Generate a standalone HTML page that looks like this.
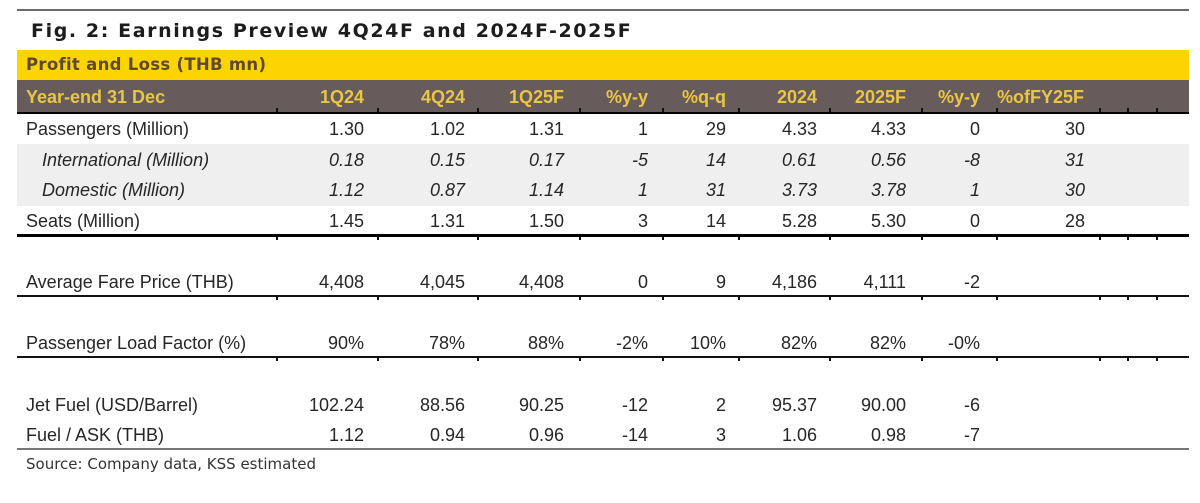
<!DOCTYPE html>
<html>
<head>
<meta charset="utf-8">
<style>
  html,body{margin:0;padding:0;background:#fff;}
  body{width:1200px;height:503px;position:relative;overflow:hidden;font-family:"Liberation Sans",Arial,sans-serif;}
  .abs{position:absolute;}
  .hl{position:absolute;left:17px;width:1172px;}
  .title{position:absolute;left:31px;top:18px;font-family:"DejaVu Sans",sans-serif;font-weight:bold;font-size:19px;letter-spacing:1.6px;color:#1c1c1c;white-space:nowrap;line-height:26px;}
  .pl{position:absolute;left:26px;top:52px;font-family:"DejaVu Sans",sans-serif;font-weight:bold;font-size:16.5px;letter-spacing:0.3px;color:#5e4a2a;white-space:nowrap;line-height:26px;}
  .row{position:absolute;left:0;width:1200px;height:24px;line-height:24px;font-size:18px;color:#262626;white-space:nowrap;}
  .row span{position:absolute;top:0;}
  .row .lab{left:26px;}
  .row .ind{left:42px;}
  .it{font-style:italic;}
  .hdr{color:#e9c646;font-weight:bold;font-size:18px;}
  .tk{position:absolute;width:2px;height:4px;background:#111;}
  .src{position:absolute;left:26px;top:453px;font-family:"DejaVu Sans",sans-serif;font-size:15px;color:#333;white-space:nowrap;line-height:22px;}
</style>
</head>
<body>
<!-- top rule -->
<div class="hl" style="top:9px;height:2px;background:#6a6a6a;"></div>
<div class="title">Fig. 2: Earnings Preview 4Q24F and 2024F-2025F</div>

<!-- yellow band -->
<div class="hl" style="top:50px;height:30px;background:#fdd300;"></div>
<div class="pl">Profit and Loss (THB mn)</div>

<!-- dark header band -->
<div class="hl" style="top:80px;height:33px;background:#675b5c;"></div>
<div class="row hdr" style="top:85px;">
  <span class="lab">Year-end 31 Dec</span>
  <span style="right:836px;">1Q24</span>
  <span style="right:735px;">4Q24</span>
  <span style="right:636px;">1Q25F</span>
  <span style="right:552px;">%y-y</span>
  <span style="right:474px;">%q-q</span>
  <span style="right:383px;">2024</span>
  <span style="right:294px;">2025F</span>
  <span style="right:220px;">%y-y</span>
  <span style="right:116px;">%ofFY25F</span>
</div>
<div class="hl" style="top:112px;height:2px;background:#000;"></div>

<!-- gray rows -->
<div class="hl" style="top:144px;height:62px;background:#efefef;"></div>

<div class="row" style="top:117px;">
  <span class="lab">Passengers (Million)</span>
  <span style="right:836px;">1.30</span>
  <span style="right:735px;">1.02</span>
  <span style="right:636px;">1.31</span>
  <span style="right:552px;">1</span>
  <span style="right:474px;">29</span>
  <span style="right:383px;">4.33</span>
  <span style="right:294px;">4.33</span>
  <span style="right:220px;">0</span>
  <span style="right:115px;">30</span>
</div>
<div class="row it" style="top:148px;">
  <span class="ind">International (Million)</span>
  <span style="right:836px;">0.18</span>
  <span style="right:735px;">0.15</span>
  <span style="right:636px;">0.17</span>
  <span style="right:552px;">-5</span>
  <span style="right:474px;">14</span>
  <span style="right:383px;">0.61</span>
  <span style="right:294px;">0.56</span>
  <span style="right:220px;">-8</span>
  <span style="right:115px;">31</span>
</div>
<div class="row it" style="top:178px;">
  <span class="ind">Domestic (Million)</span>
  <span style="right:836px;">1.12</span>
  <span style="right:735px;">0.87</span>
  <span style="right:636px;">1.14</span>
  <span style="right:552px;">1</span>
  <span style="right:474px;">31</span>
  <span style="right:383px;">3.73</span>
  <span style="right:294px;">3.78</span>
  <span style="right:220px;">1</span>
  <span style="right:115px;">30</span>
</div>
<div class="row" style="top:209px;">
  <span class="lab">Seats (Million)</span>
  <span style="right:836px;">1.45</span>
  <span style="right:735px;">1.31</span>
  <span style="right:636px;">1.50</span>
  <span style="right:552px;">3</span>
  <span style="right:474px;">14</span>
  <span style="right:383px;">5.28</span>
  <span style="right:294px;">5.30</span>
  <span style="right:220px;">0</span>
  <span style="right:115px;">28</span>
</div>
<div class="hl" style="top:234px;height:3px;background:#000;"></div>

<div class="row" style="top:270px;">
  <span class="lab">Average Fare Price (THB)</span>
  <span style="right:836px;">4,408</span>
  <span style="right:735px;">4,045</span>
  <span style="right:636px;">4,408</span>
  <span style="right:552px;">0</span>
  <span style="right:474px;">9</span>
  <span style="right:383px;">4,186</span>
  <span style="right:294px;">4,111</span>
  <span style="right:220px;">-2</span>
</div>
<div class="hl" style="top:295px;height:2px;background:#111;"></div>

<div class="row" style="top:331px;">
  <span class="lab">Passenger Load Factor (%)</span>
  <span style="right:836px;">90%</span>
  <span style="right:735px;">78%</span>
  <span style="right:636px;">88%</span>
  <span style="right:552px;">-2%</span>
  <span style="right:474px;">10%</span>
  <span style="right:383px;">82%</span>
  <span style="right:294px;">82%</span>
  <span style="right:220px;">-0%</span>
</div>
<div class="hl" style="top:356px;height:2px;background:#111;"></div>

<div class="row" style="top:393px;">
  <span class="lab">Jet Fuel (USD/Barrel)</span>
  <span style="right:836px;">102.24</span>
  <span style="right:735px;">88.56</span>
  <span style="right:636px;">90.25</span>
  <span style="right:552px;">-12</span>
  <span style="right:474px;">2</span>
  <span style="right:383px;">95.37</span>
  <span style="right:294px;">90.00</span>
  <span style="right:220px;">-6</span>
</div>
<div class="row" style="top:423px;">
  <span class="lab">Fuel / ASK (THB)</span>
  <span style="right:836px;">1.12</span>
  <span style="right:735px;">0.94</span>
  <span style="right:636px;">0.96</span>
  <span style="right:552px;">-14</span>
  <span style="right:474px;">3</span>
  <span style="right:383px;">1.06</span>
  <span style="right:294px;">0.98</span>
  <span style="right:220px;">-7</span>
</div>
<div class="hl" style="top:448px;height:2px;background:#777;"></div>

<div class="src">Source: Company data, KSS estimated</div>

<!-- tick marks -->
<div id="ticks"></div>
<svg class="abs" style="left:0;top:0;" width="1200" height="503">
  <g fill="#111">
    <!-- header line ticks (above) -->
    <rect x="276" y="108" width="2" height="4"/><rect x="377" y="108" width="2" height="4"/><rect x="477" y="108" width="2" height="4"/><rect x="579" y="108" width="2" height="4"/><rect x="662" y="108" width="2" height="4"/><rect x="738" y="108" width="2" height="4"/><rect x="829" y="108" width="2" height="4"/><rect x="921" y="108" width="2" height="4"/><rect x="996" y="108" width="2" height="4"/><rect x="1099" y="108" width="2" height="4"/><rect x="1127" y="108" width="2" height="4"/><rect x="1156" y="108" width="2" height="4"/>
    <!-- bold line ticks (below) -->
    <rect x="276" y="237" width="2" height="3"/><rect x="377" y="237" width="2" height="3"/><rect x="477" y="237" width="2" height="3"/><rect x="579" y="237" width="2" height="3"/><rect x="662" y="237" width="2" height="3"/><rect x="738" y="237" width="2" height="3"/><rect x="829" y="237" width="2" height="3"/><rect x="921" y="237" width="2" height="3"/><rect x="996" y="237" width="2" height="3"/><rect x="1099" y="237" width="2" height="3"/><rect x="1127" y="237" width="2" height="3"/><rect x="1156" y="237" width="2" height="3"/>
    <!-- line 295 ticks -->
    <rect x="276" y="297" width="2" height="3"/><rect x="377" y="297" width="2" height="3"/><rect x="477" y="297" width="2" height="3"/><rect x="579" y="297" width="2" height="3"/><rect x="662" y="297" width="2" height="3"/><rect x="738" y="297" width="2" height="3"/><rect x="829" y="297" width="2" height="3"/><rect x="921" y="297" width="2" height="3"/><rect x="996" y="297" width="2" height="3"/><rect x="1099" y="297" width="2" height="3"/><rect x="1127" y="297" width="2" height="3"/><rect x="1156" y="297" width="2" height="3"/>
    <!-- line 356 ticks -->
    <rect x="276" y="358" width="2" height="3"/><rect x="377" y="358" width="2" height="3"/><rect x="477" y="358" width="2" height="3"/><rect x="579" y="358" width="2" height="3"/><rect x="662" y="358" width="2" height="3"/><rect x="738" y="358" width="2" height="3"/><rect x="829" y="358" width="2" height="3"/><rect x="921" y="358" width="2" height="3"/><rect x="996" y="358" width="2" height="3"/><rect x="1099" y="358" width="2" height="3"/><rect x="1127" y="358" width="2" height="3"/><rect x="1156" y="358" width="2" height="3"/>
  </g>
</svg>
</body>
</html>
